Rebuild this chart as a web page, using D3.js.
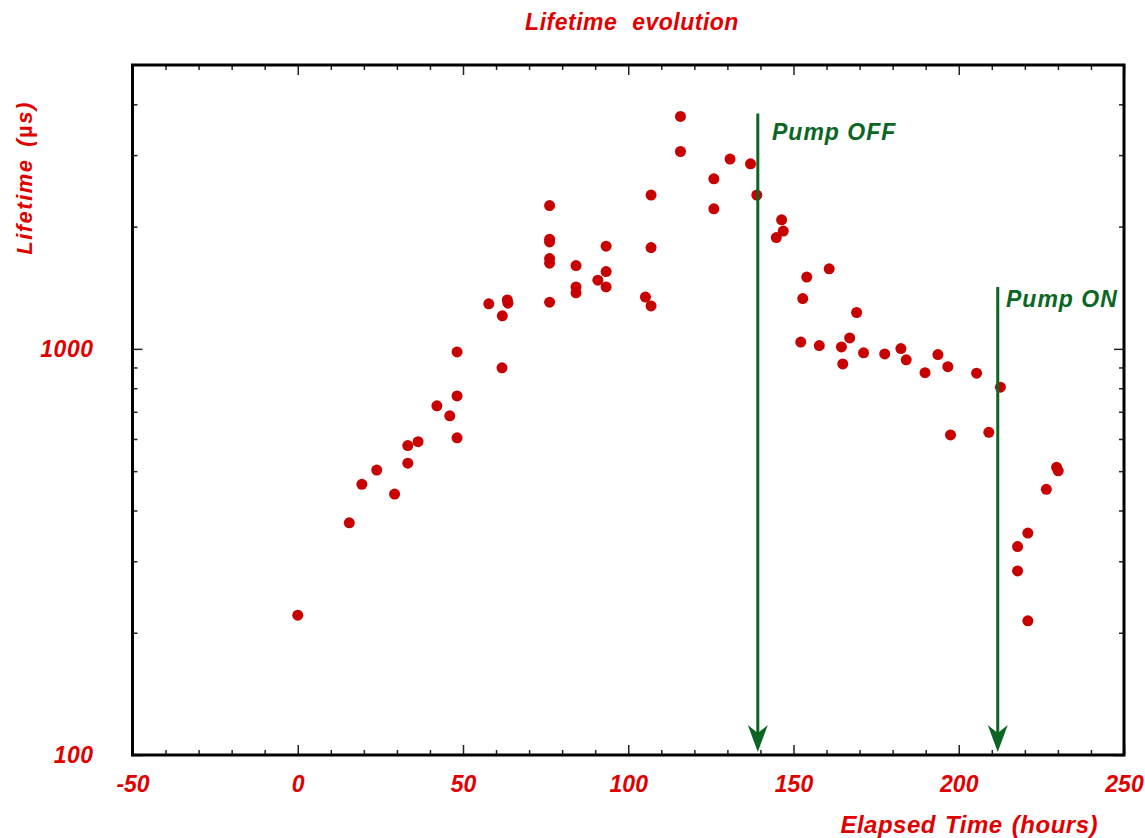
<!DOCTYPE html>
<meta charset="utf-8">
<style>
body { margin: 0; background: #fff; }
text { font-family: "Liberation Sans", Arial, sans-serif; font-weight: bold; font-style: italic; }
.lab { fill: #e00000; }
.axis path { display: none; }
.axis line { stroke: #222; stroke-width: 1.5; }
.axis text { fill: #e00000; font-size: 23px; font-family: "Liberation Sans", Arial, sans-serif; font-weight: bold; font-style: italic; }
</style>
<svg width="1145" height="838"></svg>
<script src="https://d3js.org/d3.v7.min.js"></script>
<script>

// measured lifetime (µs) vs elapsed time (hours)
var hours = [0, 15.6, 19.4, 23.9, 29.3, 33.3, 33.3, 36.4, 42.1, 46.0, 48.2, 48.2, 48.2,
  57.8, 61.9, 63.4, 63.6, 61.8, 76.2, 76.2, 76.2, 76.2, 76.2, 76.2,
  84.2, 84.2, 84.2, 90.8, 93.3, 93.3, 93.3, 105.2, 106.9, 106.9, 106.9,
  115.8, 115.8, 125.9, 125.9, 130.8, 137.0, 138.9, 146.4, 146.9, 144.8,
  160.8, 154.0, 152.8, 169.1, 152.2, 157.8, 164.5, 167.0, 164.9, 171.2,
  177.6, 182.5, 184.1, 189.8, 193.7, 196.7, 197.5, 205.4, 209.1, 212.6,
  217.8, 217.8, 220.9, 220.9, 226.5, 229.6, 230.1];
var lifetime = [221, 373, 464, 503, 439, 523, 578, 591, 724, 684, 766, 604, 983,
  1291, 1206, 1320, 1296, 898, 2254, 1863, 1834, 1669, 1626, 1303,
  1604, 1421, 1374, 1476, 1790, 1550, 1421, 1341, 1276, 2391, 1776,
  3735, 3062, 2623, 2213, 2933, 2855, 2391, 2078, 1950, 1880,
  1574, 1502, 1330, 1229, 1039, 1019, 1011, 1064, 918, 978,
  972, 1002, 940, 874, 968, 904, 614, 871, 623, 805,
  326, 284, 214, 352, 451, 511, 501];

var xMajor = [-50, 0, 50, 100, 150, 200, 250];
var yMajor = [100, 1000];

// pump markers
var pumpHours = [139.2, 211.8];
var pumpTop = [3800, 1420];
var pumpLabels = ["Pump OFF", "Pump ON"];
var pumpLabelHours = [143.5, 214.3];
var pumpLabelValues = [3270, 1270];

var svg = d3.select("svg");
var pLeft = 132.5, pRight = 1124, pTop = 65, pBottom = 755;

var x = d3.scaleLinear().domain([-50, 250]).range([pLeft, pRight]);
var y = d3.scaleLog().domain([100, 5000]).range([pBottom, pTop]);

var xMinor = d3.range(-50, 251, 10).filter(function(d) { return xMajor.indexOf(d) < 0; });
var yMinor = [200, 300, 400, 500, 600, 700, 800, 900, 2000, 3000, 4000];
var fmt = function(d) { return String(d); };

// bottom axis: labels + inward ticks
svg.append("g").attr("class", "axis")
  .attr("transform", "translate(0," + pBottom + ")")
  .call(d3.axisBottom(x).tickValues(xMajor).tickSize(-10).tickPadding(21).tickFormat(fmt));
svg.append("g").attr("class", "axis")
  .attr("transform", "translate(0," + pBottom + ")")
  .call(d3.axisBottom(x).tickValues(xMinor).tickSize(-5).tickFormat(""));
// top
svg.append("g").attr("class", "axis")
  .attr("transform", "translate(0," + pTop + ")")
  .call(d3.axisTop(x).tickValues(xMajor).tickSize(-10).tickFormat(""));
svg.append("g").attr("class", "axis")
  .attr("transform", "translate(0," + pTop + ")")
  .call(d3.axisTop(x).tickValues(xMinor).tickSize(-5).tickFormat(""));
// left
svg.append("g").attr("class", "axis")
  .attr("transform", "translate(" + pLeft + ",0)")
  .call(d3.axisLeft(y).tickValues(yMajor).tickSize(-10).tickPadding(39).tickFormat(fmt))
  .selectAll("text").attr("letter-spacing", 0.5);
svg.append("g").attr("class", "axis")
  .attr("transform", "translate(" + pLeft + ",0)")
  .call(d3.axisLeft(y).tickValues(yMinor).tickSize(-5).tickFormat(""));
// right
svg.append("g").attr("class", "axis")
  .attr("transform", "translate(" + pRight + ",0)")
  .call(d3.axisRight(y).tickValues(yMajor).tickSize(-10).tickFormat(""));
svg.append("g").attr("class", "axis")
  .attr("transform", "translate(" + pRight + ",0)")
  .call(d3.axisRight(y).tickValues(yMinor).tickSize(-5).tickFormat(""));

// frame
svg.append("rect")
  .attr("x", pLeft).attr("y", pTop)
  .attr("width", pRight - pLeft).attr("height", pBottom - pTop)
  .attr("fill", "none").attr("stroke", "#000").attr("stroke-width", 3);

// points
svg.append("g").selectAll("circle")
  .data(hours)
  .join("circle")
  .attr("cx", function(d) { return x(d); })
  .attr("cy", function(d, i) { return y(lifetime[i]); })
  .attr("r", 5.5)
  .attr("fill", "#c80000");

// arrows
var green = "#0b6623";
var arrows = svg.append("g");
pumpHours.forEach(function(h, i) {
  var ax = x(h), tip = y(100) - 3;
  arrows.append("line")
    .attr("x1", ax).attr("x2", ax)
    .attr("y1", y(pumpTop[i])).attr("y2", tip - 10)
    .attr("stroke", green).attr("stroke-width", 3);
  arrows.append("path")
    .attr("d", "M" + ax + "," + tip + "L" + (ax - 10) + "," + (tip - 27) +
      "L" + ax + "," + (tip - 19) + "L" + (ax + 10) + "," + (tip - 27) + "Z")
    .attr("fill", green);
  arrows.append("text")
    .attr("x", x(pumpLabelHours[i])).attr("y", y(pumpLabelValues[i]))
    .attr("fill", green).attr("font-size", 23).attr("letter-spacing", 1)
    .text(pumpLabels[i]);
});

// titles
svg.append("text").attr("class", "lab")
  .attr("x", 632).attr("y", 30).attr("text-anchor", "middle")
  .attr("font-size", 23).attr("letter-spacing", 0.5).attr("word-spacing", 8)
  .text("Lifetime evolution");

svg.append("text").attr("class", "lab")
  .attr("x", 1098).attr("y", 833).attr("text-anchor", "end")
  .attr("font-size", 24).attr("letter-spacing", 0.5).attr("word-spacing", 2)
  .text("Elapsed Time (hours)");

var yl = svg.append("text").attr("class", "lab")
  .attr("transform", "translate(32,178) rotate(-90)")
  .attr("text-anchor", "middle")
  .attr("font-size", 22).attr("letter-spacing", 1.5).attr("word-spacing", 4);
yl.append("tspan").text("Lifetime (");
yl.append("tspan").style("font-style", "normal").text("µ");
yl.append("tspan").text("s)");

</script>
